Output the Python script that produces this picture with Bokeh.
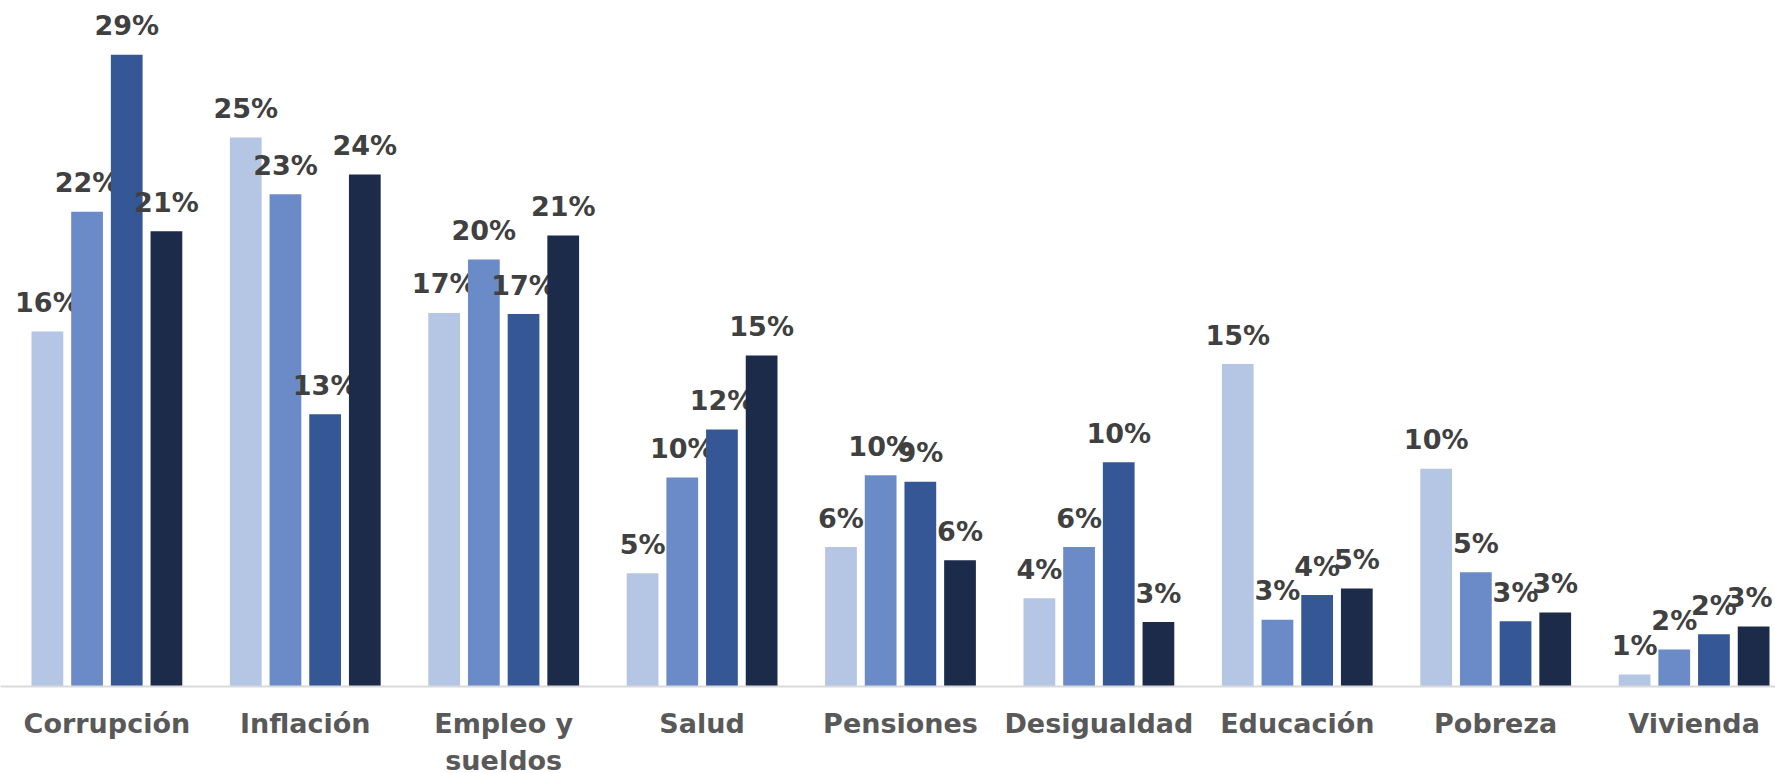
import numpy as np
from bokeh.plotting import figure
from bokeh.models import ColumnDataSource, Range1d, FixedTicker
from bokeh.core.properties import value
from bokeh.embed import file_html
from bokeh.resources import INLINE

categories = ["Corrupción", "Inflación", "Empleo y\nsueldos", "Salud", "Pensiones",
              "Desigualdad", "Educación", "Pobreza", "Vivienda"]

series_a = [16.3, 25.2, 17.15, 5.2, 6.4, 4.05, 14.8, 10.0, 0.55]
series_b = [21.8, 22.6, 19.6, 9.6, 9.7, 6.4, 3.07, 5.25, 1.7]
series_c = [29.0, 12.5, 17.1, 11.8, 9.4, 10.3, 4.2, 3.0, 2.4]
series_d = [20.9, 23.5, 20.7, 15.2, 5.8, 2.96, 4.5, 3.4, 2.75]

labels_a = ["16%", "25%", "17%", "5%", "6%", "4%", "15%", "10%", "1%"]
labels_b = ["22%", "23%", "20%", "10%", "10%", "6%", "3%", "5%", "2%"]
labels_c = ["29%", "13%", "17%", "12%", "9%", "10%", "4%", "3%", "2%"]
labels_d = ["21%", "24%", "21%", "15%", "6%", "3%", "5%", "3%", "3%"]

colors = ["#B4C6E4", "#6A8BC8", "#365796", "#1C2B4A"]
offsets = [-0.3, -0.1, 0.1, 0.3]

FW, FH = 1775, 686
unit = 198.4
x0 = -106.4 / unit
x1 = x0 + FW / unit
y1 = FH / ((686 - 54.3) / 29.0)

p = figure(frame_width=FW, frame_height=FH, output_backend="svg", toolbar_location=None,
           x_range=Range1d(x0, x1), y_range=Range1d(0, y1),
           min_border_left=0, min_border_right=0, min_border_top=0,
           min_border_bottom=0)
p.outline_line_color = None
p.grid.visible = False
p.yaxis.visible = False

idx = np.arange(len(categories))
n = len(categories)
for k, (vals, labs, col, off) in enumerate(zip([series_a, series_b, series_c, series_d],
                                               [labels_a, labels_b, labels_c, labels_d],
                                               colors, offsets)):
    xoff = [0.0] * n
    if k == 3:
        xoff[-1] = -4.0  # keep the last label inside the frame
    src = ColumnDataSource(dict(x=idx + off, top=vals, lab=labs, xo=xoff))
    p.vbar(x="x", top="top", bottom=0, width=0.16, source=src,
           fill_color=col, line_color=None)
    p.text(x="x", y="top", text="lab", source=src, text_align="center",
           text_baseline="alphabetic", y_offset=-29, x_offset="xo",
           text_font=value("DejaVu Sans"), text_font_style="bold",
           text_font_size="27px", text_color="#404040")

ax = p.xaxis[0]
ax.ticker = FixedTicker(ticks=list(range(n)))
ax.major_label_overrides = {i: c for i, c in enumerate(categories)}
ax.major_tick_line_color = None
ax.minor_tick_line_color = None
ax.axis_line_color = "#D9D9D9"
ax.axis_line_width = 2
ax.major_label_standoff = 15
ax.major_label_text_font = "DejaVu Sans"
ax.major_label_text_font_style = "bold"
ax.major_label_text_font_size = "27px"
ax.major_label_text_color = "#595959"

open("out.html", "w").write(file_html(p, INLINE))
